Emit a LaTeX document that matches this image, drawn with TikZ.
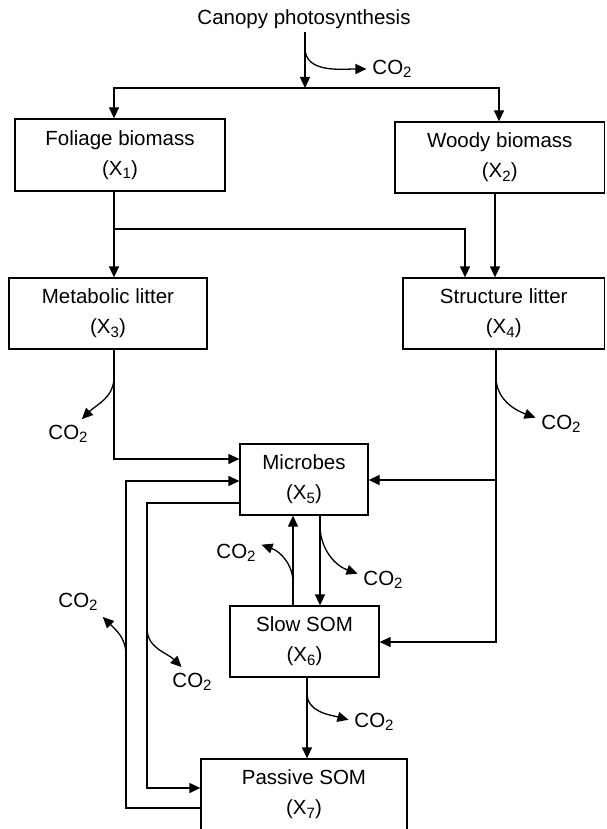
\documentclass[tikz,border=0pt]{standalone}
\usepackage{fontspec}
\setmainfont{Liberation Sans}
\usetikzlibrary{arrows.meta}
\newcommand\mysub[1]{\raisebox{-3.5pt}{\fontsize{15}{15}\selectfont #1}}
\begin{document}
\begin{tikzpicture}[x=1pt,y=-1pt,
  every node/.style={font=\fontsize{20.5}{30}\selectfont},
  box/.style={draw,line width=1.3pt,rectangle,inner sep=0pt,align=center,minimum height=71pt},
  arr/.style={line width=1.3pt,-{Triangle[length=11pt,width=10pt]}},
  co2/.style={inner sep=6pt,outer sep=0pt}]
\useasboundingbox (0,0) rectangle (606,829);
\clip (0,0) rectangle (606,829);
% boxes
\node (canopy) at (304,19) {Canopy photosynthesis};
\node[box,minimum width=210pt,minimum height=72pt] (fol) at (120,155) {Foliage biomass\\(X\mysub{1})};
\node[box,minimum width=209.5pt] (wood) at (499.75,157.5) {Woody biomass\\(X\mysub{2})};
\node[box,minimum width=198pt] (met) at (108,313.5) {Metabolic litter\\(X\mysub{3})};
\node[box,minimum width=201.5pt] (str) at (503.75,313.5) {Structure litter\\(X\mysub{4})};
\node[box,minimum width=128pt] (mic) at (304,479.5) {Microbes\\(X\mysub{5})};
\node[box,minimum width=149pt] (slow) at (304.5,641.5) {Slow SOM\\(X\mysub{6})};
\node[box,minimum width=206pt] (pas) at (304,794.5) {Passive SOM\\(X\mysub{7})};
% CO2 labels
\node[co2] (c1) at (392,69) {CO\mysub{2}};
\node[co2] (c2) at (68,434) {CO\mysub{2}};
\node[co2] (c3) at (561,424) {CO\mysub{2}};
\node[co2] (c4) at (383,580) {CO\mysub{2}};
\node[co2] (c5) at (236,553) {CO\mysub{2}};
\node[co2] (c6) at (374,722) {CO\mysub{2}};
\node[co2] (c7) at (78,602) {CO\mysub{2}};
\node[co2] (c8) at (192,682) {CO\mysub{2}};
% junctions
\coordinate (j0) at (305,88);
\coordinate (j1) at (114,229);
\coordinate (j2) at (496,480);
% main flows
\draw[arr] (canopy.south -| j0) -- (j0);
\draw[arr] (j0) -| (fol.north -| 114,0);
\draw[arr] (j0) -| (wood.north -| 499,0);
\draw[arr] (fol.south -| 114,0) -- (met.north -| 114,0);
\draw[arr] (j1) -| (str.north -| 465,0);
\draw[arr] (wood.south -| 495,0) -- (str.north -| 495,0);
\draw[arr] (met.south -| 114,0) |- (mic.west |- 0,459);
\draw[arr] (str.south -| 496,0) |- (slow.east |- 0,642);
\draw[arr] (j2) -- (mic.east |- j2);
\draw[arr] (mic.south -| 320,0) -- (slow.north -| 320,0);
\draw[arr] (slow.north -| 293,0) -- (mic.south -| 293,0);
\draw[arr] (slow.south -| 307,0) -- (pas.north -| 307,0);
\draw[arr] (mic.west |- 0,503) -| (147,650) |- (pas.west |- 0,788);
\draw[arr] (pas.west |- 0,808) -| (126,650) |- (mic.west |- 0,481);
% CO2 releases
\coordinate (s1) at (305,48);
\coordinate (s2) at (114,377);
\coordinate (s3) at (496,377);
\coordinate (s4) at (320,525);
\coordinate (s5) at (293,583);
\coordinate (s6) at (307,693);
\coordinate (s7) at (126,655);
\coordinate (s8) at (147,628);
\draw[arr] (s1) to[out=-90,in=180] (c1.west);
\draw[arr] (s2) to[out=-90,in=45] (c2.47);
\draw[arr] (s3) to[out=-90,in=160] (c3.166);
\draw[arr] (s4) to[out=-90,in=160] (c4.166);
\draw[arr] (s5) to[out=90,in=-20] (c5.18);
\draw[arr] (s6) to[out=-90,in=165] (c6.175);
\draw[arr] (s7) to[out=90,in=-45] (c7.-31);
\draw[arr] (s8) to[out=-90,in=135] (c8.125);
\end{tikzpicture}
\end{document}
